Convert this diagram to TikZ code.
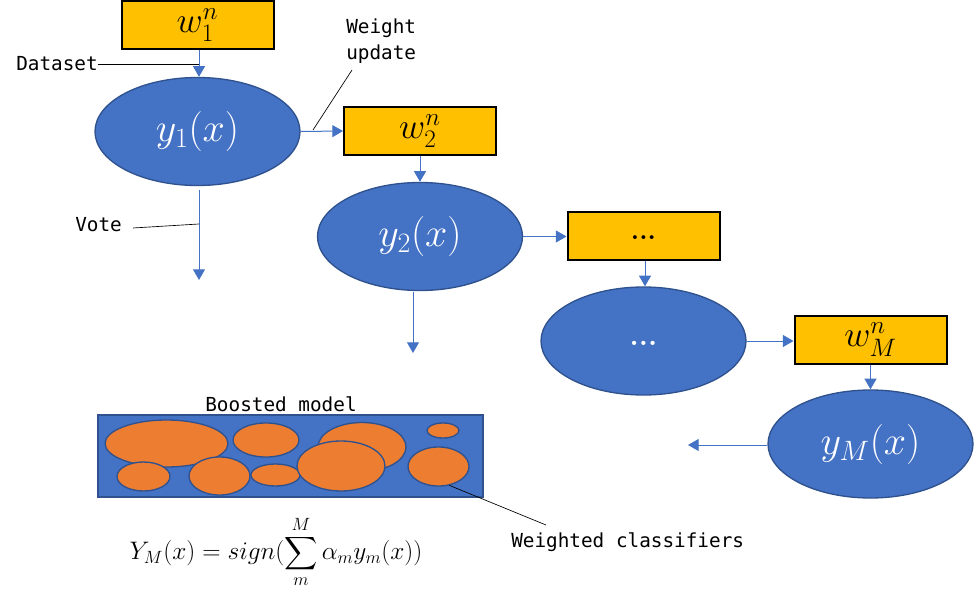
\documentclass[tikz,border=0pt]{standalone}
\usepackage{fix-cm}
\usepackage{exscale}
\usepackage{fontspec}
\setmonofont{DejaVu Sans Mono}
\usetikzlibrary{shapes.geometric,arrows.meta}
\definecolor{cblue}{HTML}{4472C4}
\definecolor{cborder}{HTML}{2F528F}
\definecolor{corange}{HTML}{ED7D31}
\definecolor{cgold}{HTML}{FFC000}
\begin{document}
\begin{tikzpicture}[x=0.75pt,y=-0.75pt,
  wbox/.style={draw=black,line width=1.5pt,fill=cgold,minimum width=114pt,minimum height=36pt,inner sep=0pt,font=\fontsize{27}{30}\selectfont},
  clf/.style={ellipse,draw=cborder,line width=1pt,fill=cblue,minimum width=153.75pt,minimum height=81pt,inner sep=0pt,text=white,font=\fontsize{30}{34}\selectfont},
  flow/.style={draw=cblue,line width=0.75pt,-{Triangle[length=8pt,width=9pt]}},
  note/.style={draw=black,line width=0.5pt},
  lbl/.style={font=\ttfamily\fontsize{14.5}{19.5}\selectfont,inner sep=0pt},
  part/.style 2 args={ellipse,draw=cborder,line width=1pt,fill=corange,inner sep=0pt,minimum width=#1*1.5pt,minimum height=#2*1.5pt}
]
\useasboundingbox (0,0) rectangle (974,595);
% weight boxes and classifiers
\node[wbox] (w1) at (197.5,25) {$w_1^n$};
\node[clf] (y1) at (197.5,131.5) {$y_1(x)$};
\node[wbox] (w2) at (420,131) {$w_2^n$};
\node[clf] (y2) at (420,236.5) {$y_2(x)$};
\node[wbox,font=\bfseries\fontsize{20}{24}\selectfont] (wd) at (643.5,236.5) {\raisebox{-0.25em}{...}};
\node[clf,font=\bfseries\fontsize{22}{26}\selectfont] (yd) at (643.5,341) {\raisebox{-0.3em}{...}};
\node[wbox] (wM) at (870.5,339.5) {$w_M^n$};
\node[clf] (yM) at (870.5,444) {$y_M(x)$};
% flow arrows
\draw[flow] (w1.south -| 199,0) -- (y1.north -| 199,0);
\draw[flow] (y1.east) -- (w2.west);
\draw[flow] (w2) -- (y2);
\draw[flow] (y2.east) -- (wd.west);
\draw[flow] (wd.south -| 645,0) -- (yd.north -| 645,0);
\draw[flow] (yd.east) -- (yd.east -| wM.west);
\draw[flow] (wM) -- (yM);
\coordinate (yMend) at (688,445);
\draw[flow] (yM.west |- 0,445) -- (yMend);
\coordinate (v1s) at (199,190);
\coordinate (v1e) at (199,280);
\draw[flow] (v1s) -- (v1e);
\coordinate (v2s) at (413,292);
\coordinate (v2e) at (413,353);
\draw[flow] (v2s) -- (v2e);
% annotations
\node[lbl,anchor=west] (ds) at (16,64) {Dataset};
\coordinate (dsend) at (199,63);
\draw[note] (ds.east) -- (ds.east -| dsend);
\node[lbl,anchor=north west,align=left] (wu) at (346,19) {Weight\\update};
\coordinate (wua) at (352,70);
\coordinate (wub) at (313,130);
\draw[note] (wua) -- (wub);
\node[lbl,anchor=west] (vote) at (75,225) {Vote};
\coordinate (vend) at (199,224);
\draw[note] (133,228) -- (vend);
% boosted model
\node[lbl] (bmt) at (281,404) {Boosted model};
\node[draw=cborder,line width=1pt,fill=cblue,minimum width=288.75pt,minimum height=61.5pt,inner sep=0pt] (model) at (290.5,456) {};
\node[part={61.5}{23.5}] (p1) at (166.5,443.5) {};
\node[part={33}{17}] (p2) at (266,440) {};
\node[part={44}{24.5}] (p3) at (362,447) {};
\node[part={16}{7.5}] (p4) at (443,430.5) {};
\node[part={26.5}{14.5}] (p5) at (143.5,476.5) {};
\node[part={30.5}{19}] (p6) at (219.5,476) {};
\node[part={24.5}{11}] (p7) at (275.5,475) {};
\node[part={44}{25}] (p8) at (341,466) {};
\node[part={30.5}{19.5}] (p9) at (438.5,466.5) {};
\node[lbl,anchor=west] (wc) at (511,542) {Weighted classifiers};
\coordinate (wcend) at (546,525);
\draw[note] (p9.-60) -- (wcend);
% formula
\node[font=\fontsize{19}{23}\selectfont] (formula) at (276,552) {$\displaystyle Y_M(x)=sign(\sum\limits_m^M \alpha_m y_m(x))$};
\end{tikzpicture}
\end{document}
